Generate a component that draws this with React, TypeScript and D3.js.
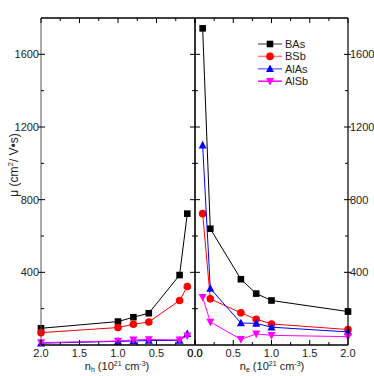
import React from 'react';
import * as d3 from 'd3';

const W = 374;
const H = 376;
const left = 41;
const mid = 195;
const right = 348;
const top = 18;
const bottom = 345;

// carrier concentration, 10^21 cm^-3
const holeX = [2.0, 1.0, 0.8, 0.6, 0.2, 0.1];
const elecX = [0.1, 0.2, 0.6, 0.8, 1.0, 2.0];

// mobility, cm^2/V s
const holeBAs = [92, 129, 153, 175, 385, 723];
const holeBSb = [68, 96, 114, 127, 245, 322];
const holeAlAs = [10, 20, 22, 25, 25, 62];
const holeAlSb = [13, 22, 28, 30, 28, 50];

const elecBAs = [1743, 640, 362, 283, 245, 184];
const elecBSb = [723, 254, 177, 142, 116, 85];
const elecAlAs = [1100, 311, 121, 119, 98, 72];
const elecAlSb = [263, 127, 31, 61, 53, 46];

const names = ['BAs', 'BSb', 'AlAs', 'AlSb'];
const colors = ['#000000', '#ff0000', '#0000ff', '#ff00ff'];
const legendLine = ['#777777', '#ff7777', '#7777ff', '#ff00ff'];
const shapes = ['square', 'circle', 'up', 'down'];

const xTicks = [0, 0.5, 1.0, 1.5, 2.0];
const xMinor = [0.25, 0.75, 1.25, 1.75];
const yTicks = [400, 800, 1200, 1600];
const yMinor = [200, 600, 1000, 1400];

const font = 'Liberation Sans, Arial, sans-serif';

const Marker = ({ shape, x, y, color, s = 3.3 }) => {
  if (shape === 'square')
    return <rect x={x - s} y={y - s} width={2 * s} height={2 * s} fill={color} />;
  if (shape === 'circle') return <circle cx={x} cy={y} r={s + 0.5} fill={color} />;
  if (shape === 'up')
    return <path d={`M${x},${y - s - 1}L${x + s + 0.7},${y + s}L${x - s - 0.7},${y + s}Z`} fill={color} />;
  return <path d={`M${x},${y + s + 1}L${x + s + 0.7},${y - s}L${x - s - 0.7},${y - s}Z`} fill={color} />;
};

const App = () => {
  const y = d3.scaleLinear().domain([0, 1800]).range([bottom, top]);
  const xh = d3.scaleLinear().domain([2, 0]).range([left, mid]);
  const xe = d3.scaleLinear().domain([0, 2]).range([mid, right]);

  const holes = [holeBAs, holeBSb, holeAlAs, holeAlSb];
  const elecs = [elecBAs, elecBSb, elecAlAs, elecAlSb];

  const drawSeries = (xs, ys, sx, i) => {
    const pts = xs.map((v, k) => [sx(v), y(ys[k])]);
    const line = d3.line();
    return (
      <g key={i}>
        <path d={line(pts)} fill="none" stroke={colors[i]} strokeWidth={1} />
        {pts.map((p, k) => (
          <Marker key={k} shape={shapes[i]} x={p[0]} y={p[1]} color={colors[i]} />
        ))}
      </g>
    );
  };

  const xAxisTicks = (sx, key) => (
    <g key={key}>
      {xTicks.map(t => (
        <g key={t}>
          <line x1={sx(t)} x2={sx(t)} y1={bottom} y2={bottom - 5} stroke="#000" />
          <line x1={sx(t)} x2={sx(t)} y1={top} y2={top + 5} stroke="#000" />
          <text x={sx(t)} y={357} textAnchor="middle" fontSize={11} fill="#222">
            {d3.format('.1f')(t)}
          </text>
        </g>
      ))}
      {xMinor.map(t => (
        <g key={t}>
          <line x1={sx(t)} x2={sx(t)} y1={bottom} y2={bottom - 3} stroke="#000" />
          <line x1={sx(t)} x2={sx(t)} y1={top} y2={top + 3} stroke="#000" />
        </g>
      ))}
    </g>
  );

  return (
    <div style={{ position: 'absolute', left: 0, top: 0 }}>
      <svg width={W} height={H} fontFamily={font} style={{ display: 'block' }}>
        <rect width={W} height={H} fill="#fff" />

        {/* data */}
        {holes.map((s, i) => drawSeries(holeX, s, xh, i))}
        {elecs.map((s, i) => drawSeries(elecX, s, xe, i))}

        {/* frame */}
        <line x1={left} x2={right} y1={top} y2={top} stroke="#000" strokeWidth={1.5} />
        <line x1={left} x2={right} y1={bottom} y2={bottom} stroke="#000" strokeWidth={1.5} />
        <line x1={left} x2={left} y1={top} y2={bottom} stroke="#555" strokeWidth={1} />
        <line x1={right} x2={right} y1={top} y2={bottom} stroke="#000" strokeWidth={1.2} />
        <line x1={mid} x2={mid} y1={top} y2={bottom} stroke="#333" strokeWidth={2} />

        {xAxisTicks(xh, 'h')}
        {xAxisTicks(xe, 'e')}

        {/* y ticks */}
        {yTicks.map(t => (
          <g key={t}>
            <line x1={left - 3} x2={left + 4} y1={y(t)} y2={y(t)} stroke="#000" />
            <line x1={mid - 5} x2={mid + 5} y1={y(t)} y2={y(t)} stroke="#000" />
            <line x1={right - 4} x2={right + 3} y1={y(t)} y2={y(t)} stroke="#000" />
            <text x={left - 2} y={y(t) + 4} textAnchor="end" fontSize={11} fill="#222">{t}</text>
            <text x={right + 2} y={y(t) + 4} textAnchor="start" fontSize={11} fill="#222">{t}</text>
          </g>
        ))}
        {yMinor.map(t => (
          <g key={t}>
            <line x1={left} x2={left + 3} y1={y(t)} y2={y(t)} stroke="#000" />
            <line x1={mid - 3} x2={mid + 3} y1={y(t)} y2={y(t)} stroke="#000" />
            <line x1={right - 3} x2={right} y1={y(t)} y2={y(t)} stroke="#000" />
          </g>
        ))}

        {/* axis titles */}
        <text x={117} y={370} textAnchor="middle" fontSize={11} fill="#222">
          n<tspan fontSize={7} dy={2}>h</tspan>
          <tspan dy={-2}> (10</tspan>
          <tspan fontSize={7} dy={-4}>21</tspan>
          <tspan dy={4}> cm</tspan>
          <tspan fontSize={7} dy={-4}>-3</tspan>
          <tspan dy={4}>)</tspan>
        </text>
        <text x={272} y={370} textAnchor="middle" fontSize={11} fill="#222">
          n<tspan fontSize={7} dy={2}>e</tspan>
          <tspan dy={-2}> (10</tspan>
          <tspan fontSize={7} dy={-4}>21</tspan>
          <tspan dy={4}> cm</tspan>
          <tspan fontSize={7} dy={-4}>-3</tspan>
          <tspan dy={4}>)</tspan>
        </text>
        <text transform="translate(18,165) rotate(-90)" textAnchor="middle" fontSize={12} fill="#222">
          μ (cm<tspan fontSize={8} dy={-5}>2</tspan>
          <tspan dy={5}>/ V•s)</tspan>
        </text>

        {/* legend */}
        {names.map((n, i) => {
          const ly = 44 + i * 12.4;
          return (
            <g key={n}>
              <line x1={258} x2={282} y1={ly} y2={ly} stroke={legendLine[i]} strokeWidth={1.5} />
              <Marker shape={shapes[i]} x={270} y={ly} color={colors[i]} />
              <text x={285} y={ly + 4} fontSize={11} fill="#222">{n}</text>
            </g>
          );
        })}
      </svg>
    </div>
  );
};

export default App;
